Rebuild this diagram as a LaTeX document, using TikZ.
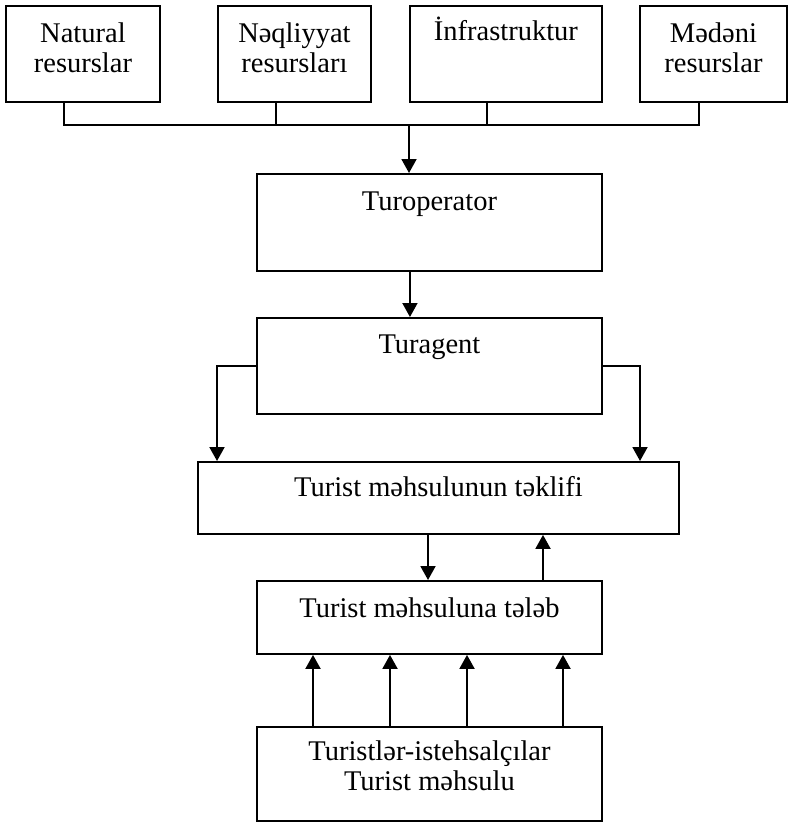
\documentclass[tikz,border=0pt]{standalone}
\usepackage{fontspec}
\setmainfont{Liberation Serif}
\usetikzlibrary{arrows.meta}
\begin{document}
\begin{tikzpicture}[x=1pt,y=-1pt,
  box/.style={draw, line width=1.9pt, inner sep=0pt, anchor=north west},
  lbl/.style={anchor=base, align=center, inner sep=0pt,
              font=\fontsize{28.5}{30}\selectfont},
  link/.style={line width=1.9pt},
  arr/.style={link, -{Triangle[length=14pt,width=15pt]}}
]
\useasboundingbox (0,0) rectangle (788,822);

% resource boxes along the top (base anchor of a two-line label = last line)
\node[box, minimum width=154pt, minimum height=96pt] (nat) at (5,5) {};
\node[box, minimum width=153pt, minimum height=96pt] (neq) at (217,5) {};
\node[box, minimum width=192pt, minimum height=96pt] (inf) at (409,5) {};
\node[box, minimum width=147pt, minimum height=96pt] (med) at (639,5) {};
\node[lbl] (nat-t) at ([yshift=-67pt]nat.north) {Natural\\resurslar};
\node[lbl] (neq-t) at ([yshift=-67pt]neq.north) {Nəqliyyat\\resursları};
\node[lbl] (inf-t) at ([yshift=-35pt]inf.north) {İnfrastruktur};
\node[lbl] (med-t) at ([yshift=-67pt]med.north) {Mədəni\\resurslar};

% main chain
\node[box, minimum width=345pt, minimum height=97pt] (op) at (256,173) {};
\node[lbl] (op-t) at ([yshift=-37pt]op.north) {Turoperator};
\node[box, minimum width=345pt, minimum height=96pt] (ag) at (256,317) {};
\node[lbl] (ag-t) at ([yshift=-36pt]ag.north) {Turagent};
\node[box, minimum width=481pt, minimum height=72pt] (offer) at (197,461) {};
\node[lbl] (offer-t) at ([yshift=-35pt]offer.north) {Turist məhsulunun təklifi};
\node[box, minimum width=345pt, minimum height=73pt] (dem) at (256,580) {};
\node[lbl] (dem-t) at ([yshift=-37pt]dem.north) {Turist məhsuluna tələb};
\node[box, minimum width=345pt, minimum height=94pt] (prod) at (256,726) {};
\node[lbl] (prod-t) at ([yshift=-64pt]prod.north) {Turistlər-istehsalçılar\\Turist məhsulu};

% collecting bus under the resource boxes
\coordinate (busL) at ([xshift=-19pt]nat.south |- 0,125);
\coordinate (busR) at ([xshift=-14.5pt]med.south |- 0,125);
\coordinate (busM) at (409,125);
\draw[link] ([xshift=-19pt]nat.south) -- (busL) -- (busR) -- ([xshift=-14.5pt]med.south);
\draw[link] ([xshift=-18.5pt]neq.south) -- ([xshift=-18.5pt]neq.south |- busM);
\draw[link] ([xshift=-19pt]inf.south) -- ([xshift=-19pt]inf.south |- busM);
\draw[arr] (busM) -- (busM |- op.north);

\draw[arr] ([xshift=-19.5pt]op.south) -- ([xshift=-19.5pt]ag.north);

% turagent to the offer
\coordinate (agL) at (217,365);
\coordinate (agR) at (640,365);
\draw[arr] (ag.west) -- (ag.west -| agL) -- (agL |- offer.north);
\draw[arr] (ag.east) -- (ag.east -| agR) -- (agR |- offer.north);

% offer and demand
\draw[arr] (offer.south -| 428,0) -- (dem.north -| 428,0);
\draw[arr] (dem.north -| 543,0) -- (offer.south -| 543,0);

% producers to demand
\foreach \x in {313,390,467,563}
  \draw[arr] (prod.north -| \x,0) -- (dem.south -| \x,0);
\end{tikzpicture}
\end{document}
